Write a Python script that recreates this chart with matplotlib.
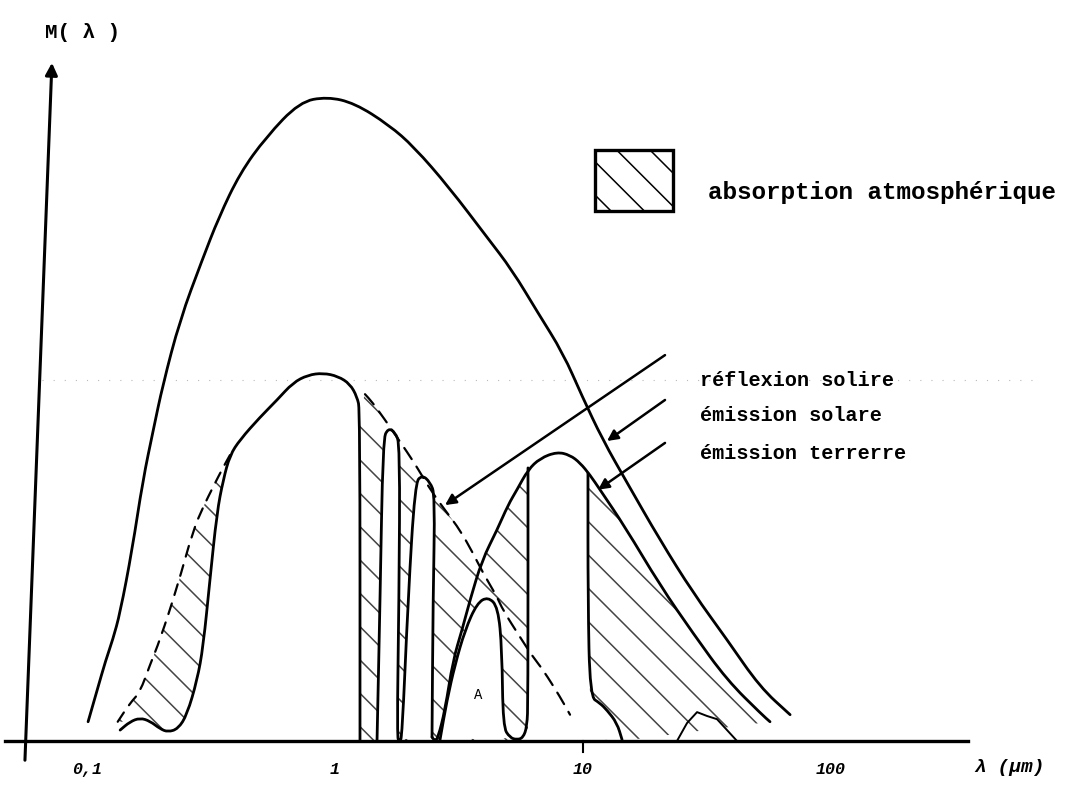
import numpy as np
import matplotlib
matplotlib.use("Agg")
import matplotlib.pyplot as plt
from matplotlib.patches import Rectangle, PathPatch
from matplotlib.path import Path

# --- valeurs lues sur le schéma (lambda en µm, M en unités arbitraires) ---
# émission solaire (courbe enveloppe)
lam_sol = [0.101, 0.110, 0.119, 0.127, 0.136, 0.152, 0.168, 0.185, 0.202, 0.237,
           0.291, 0.340, 0.414, 0.527, 0.72, 0.93, 1.20, 1.65, 2.08, 2.88, 4.10,
           5.17, 6.58, 8.31, 9.91, 12.0, 15.1, 20.4, 27.8, 38.1, 51.7, 68.4]
M_sol = [3.0, 8.0, 12.6, 15.8, 20.0, 29.8, 40.7, 48.5, 55.5, 65.7, 75.0, 81.7,
         88.6, 94.2, 99.7, 100.5, 99.5, 96.1, 92.7, 86.4, 78.6, 73.5, 66.8, 60.5,
         53.8, 47.0, 40.2, 31.4, 23.1, 15.8, 8.4, 4.1]

# réflexion solaire au sol
lam_refl = [0.136, 0.149, 0.1635, 0.1795, 0.197, 0.212, 0.233, 0.253, 0.278,
            0.294, 0.313, 0.334, 0.354, 0.377, 0.414, 0.498, 0.584, 0.677, 0.778,
            0.895, 1.028, 1.149, 1.227, 1.261, 1.261]
M_refl = [1.7, 3.0, 3.6, 3.1, 1.9, 1.4, 1.9, 4.1, 9.5, 14.7, 25.1, 35.6, 40.7,
          44.6, 47.0, 50.5, 53.2, 55.9, 57.1, 57.4, 56.9, 55.7, 53.7, 51.6, 0.0]

# réflexion hors atmosphère, partie UV (tirets)
lam_uv = [0.133, 0.149, 0.1635, 0.1795, 0.197, 0.231, 0.268, 0.294, 0.322, 0.354, 0.377]
M_uv = [3.0, 5.9, 7.6, 11.9, 15.8, 24.0, 32.9, 36.5, 39.6, 42.7, 44.6]

# réflexion hors atmosphère, partie IR (tirets)
lam_env = [1.321, 1.410, 1.591, 1.762, 1.951, 2.141, 2.461, 2.829, 3.192, 3.601,
           3.953, 4.500, 4.758, 5.572, 6.287, 6.899, 8.078, 8.864]
M_env = [54.1, 52.9, 50.1, 47.6, 45.1, 42.7, 38.8, 35.6, 32.9, 29.3, 26.2, 22.5,
         20.4, 16.2, 13.1, 11.1, 6.9, 4.1]

# bandes de transmission du proche IR
lam_band = [1.477, 1.519, 1.561, 1.636, 1.746, 1.828, 1.811, 1.778, 1.82, 1.863,
            1.970, 2.102, 2.243, 2.416, 2.530, 2.485, 2.461]
M_band = [0.0, 22.0, 47.0, 48.8, 48.2, 46.2, 22.0, 0.5, 0.0, 0.5, 22.0, 40.2,
          41.5, 40.4, 38.4, 22.0, 0.6]

# émission terrestre
lam_ter = [2.461, 2.53, 2.602, 2.777, 2.991, 3.252, 3.503, 3.915, 4.500, 4.984,
           5.418, 6.000, 6.710, 7.857, 8.864, 9.725, 10.67, 11.71, 14.77, 20.44,
           27.77, 38.07, 52.71, 56.76]
M_ter = [0.6, 0.0, 0.5, 4.8, 12.6, 17.3, 22.0, 28.2, 32.9, 36.8, 39.2, 42.3, 44.1,
         45.1, 44.6, 43.4, 41.5, 39.2, 33.4, 24.3, 16.8, 9.5, 4.1, 3.0]

# bosse "A" et bord gauche de la fenêtre 8-12 µm
lam_bosse = [2.651, 2.829, 3.047, 3.344, 3.737, 4.140, 4.543, 4.713, 4.758, 5.077,
             5.418, 5.729, 5.945, 6.000, 6.000]
M_bosse = [0.2, 6.4, 11.9, 17.3, 21.5, 22.5, 20.9, 14.2, 2.2, 0.5, 0.2, 0.5, 2.2,
           6.4, 42.6]

# bord droit de la fenêtre
lam_fen = [10.47, 10.47, 10.67, 11.71, 12.50, 13.71, 14.37]
M_fen = [41.8, 22.0, 6.9, 5.9, 4.8, 2.8, 0.2]

# petite bosse vers 30 µm
lam_bump = [23.93, 26.27, 28.83, 31.62, 34.70, 41.78]
M_bump = [0.0, 2.8, 4.5, 3.9, 3.4, 0.0]

tick_vals = [0.1, 1, 10, 100]
tick_labels = ["0,1", "1", "10", "100"]

legende = "absorption atmosphérique"
noms = ["réflexion solire", "émission solare", "émission terrerre"]

# ---------------------------------------------------------------------------
mono = ["Liberation Mono", "DejaVu Sans Mono"]
plt.rcParams["hatch.linewidth"] = 1.1


def courbe(ax, lam, m, **kw):
    # trace lissé (béziers quadratiques passant par les milieux, en log x)
    lam = np.asarray(lam, float)
    m = np.asarray(m, float)
    verts = [(lam[0], m[0])]
    codes = [Path.MOVETO]
    if len(lam) > 2:
        verts.append((np.sqrt(lam[0] * lam[1]), (m[0] + m[1]) / 2))
        codes.append(Path.LINETO)
        for i in range(1, len(lam) - 1):
            verts += [(lam[i], m[i]),
                      (np.sqrt(lam[i] * lam[i + 1]), (m[i] + m[i + 1]) / 2)]
            codes += [Path.CURVE3, Path.CURVE3]
    verts.append((lam[-1], m[-1]))
    codes.append(Path.LINETO)
    p = PathPatch(Path(verts, codes), fill=False, capstyle="round",
                  joinstyle="round", **kw)
    ax.add_patch(p)


fig = plt.figure(figsize=(10.81, 7.97), dpi=100)
ax = fig.add_axes([0, 0, 1, 1])
ax.set_xscale("log")
ax.set_xlim(0.04458, 1018.6)
ax.set_ylim(-8.74, 115.6)
ax.axis("off")

lw = 2.0
hatch_col = "#444444"

# zone hachurée UV
hx = lam_uv + lam_refl[1:13][::-1]
hy = M_uv + M_refl[1:13][::-1]
ax.fill(hx, hy, facecolor="none", edgecolor=hatch_col, linewidth=0, hatch="\\", zorder=1)

# zone hachurée IR
hx = [lam_refl[-1], lam_refl[-1]] + lam_env[:10] + lam_ter[7:] + [lam_fen[-1]]
hy = [0.0, M_refl[-2]] + M_env[:10] + M_ter[7:] + [0.0]
ax.fill(hx, hy, facecolor="none", edgecolor=hatch_col, linewidth=0, hatch="\\", zorder=1)

# fenêtres de transmission (non hachurées)
ax.fill(lam_band, M_band, facecolor="white", edgecolor="none", zorder=2)
ax.fill(lam_bosse[:12], M_bosse[:12], facecolor="white", edgecolor="none", zorder=2)
wx = [lam_bosse[-1], lam_bosse[-1]] + lam_ter[11:16] + lam_fen
wy = [0.0, M_bosse[-1]] + M_ter[11:16] + M_fen
ax.fill(wx, wy, facecolor="white", edgecolor="none", zorder=2)

# ligne pointillée de fond (trace du papier)
ax.plot([0.066, 700], [56.3, 56.3], color="#bbbbbb", lw=0.8,
        linestyle=(0, (1, 9)), zorder=0)

# courbes
k = dict(edgecolor="black", lw=lw, zorder=3)
courbe(ax, lam_sol, M_sol, **k)
courbe(ax, lam_refl, M_refl, **k)
courbe(ax, lam_band, M_band, **k)
courbe(ax, lam_ter, M_ter, **k)
courbe(ax, lam_bosse, M_bosse, **k)
courbe(ax, lam_fen, M_fen, **k)
courbe(ax, lam_uv, M_uv, edgecolor="black", lw=1.6, linestyle=(0, (5, 4)), zorder=3)
courbe(ax, lam_env, M_env, edgecolor="black", lw=1.6, linestyle=(0, (6, 4)), zorder=3)
ax.plot(lam_bump, M_bump, color="black", lw=1.4, zorder=3)

# axes dessinés à la main
ax.plot([0.0467, 357], [0, 0], color="black", lw=2.4, zorder=4)
ax.plot([10, 10], [0, -1.7], color="black", lw=1.5, zorder=4)
ax.annotate("", xy=(0.0722, 105.8), xytext=(0.0562, -3.0),
            arrowprops=dict(arrowstyle="-|>", lw=2.2, color="black",
                            mutation_scale=18, shrinkA=0, shrinkB=0), zorder=4)
ax.text(0.0677, 110.5, "M( λ )", family=mono, fontsize=15, fontweight="bold",
        va="center", ha="left")

for v, t in zip(tick_vals, tick_labels):
    ax.text(v, -4.5, t, family=mono, fontsize=12, style="italic", fontweight="bold",
            ha="center", va="center")
ax.text(527, -4.2, "λ (µm)", family=mono, fontsize=14, style="italic",
        fontweight="bold", ha="center", va="center")

# légende : rectangle hachuré
ax.add_patch(Rectangle((11.18, 82.7), 23.06 - 11.18, 92.2 - 82.7, fill=False,
                       edgecolor="black", lw=2.4, hatch="\\", zorder=3))
ax.text(31.92, 85.6, legende, family=mono, fontsize=17.5, fontweight="bold",
        va="center", ha="left")

# étiquettes et flèches
text_y = [56.3, 50.7, 44.9]
starts = [(21.41, 60.2), (21.41, 53.2), (21.41, 46.5)]
tips = [(2.777, 36.8), (12.50, 46.8), (11.50, 39.2)]
for nom, ty, s, tp in zip(noms, text_y, starts, tips):
    ax.text(29.64, ty, nom, family=mono, fontsize=14.5, fontweight="bold",
            va="center", ha="left")
    ax.annotate("", xy=tp, xytext=s,
                arrowprops=dict(arrowstyle="-|>", lw=1.8, color="black",
                                mutation_scale=16, shrinkA=0, shrinkB=0), zorder=4)

ax.text(3.772, 7.2, "A", family=mono, fontsize=10, ha="center", va="center")

fig.savefig("out.png", dpi=100)
